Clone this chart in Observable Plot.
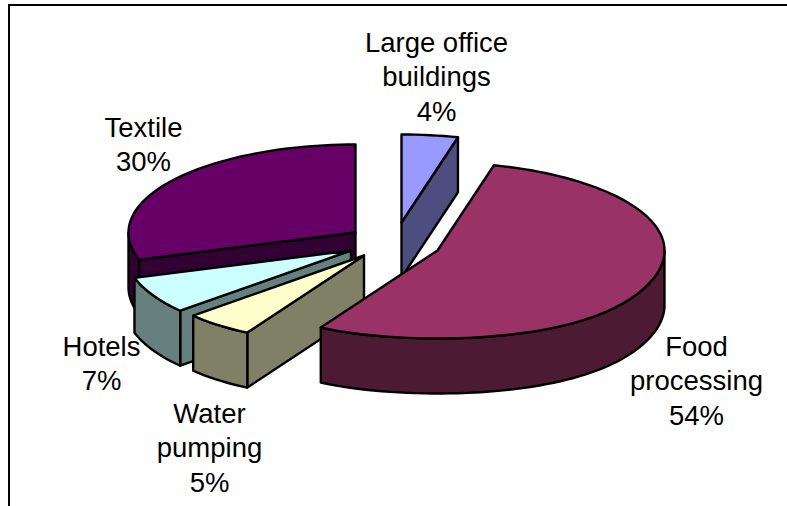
<!DOCTYPE html>
<html>
<head>
<meta charset="utf-8">
<style>html,body{margin:0;padding:0;background:#fff;overflow:hidden}svg{display:block}</style>
<script src="https://cdn.jsdelivr.net/npm/d3@7"></script>
<script src="https://cdn.jsdelivr.net/npm/@observablehq/plot@0.6"></script>
</head>
<body>
<script>
// Data, clockwise from twelve o'clock
const sectors = ["Large office\nbuildings", "Food\nprocessing", "Water\npumping", "Hotels", "Textile"];
const shares = [4, 54, 5, 7, 30];
const topColors = ["#9999ff", "#993366", "#ffffcc", "#ccffff", "#660066"];
const sideColors = ["#4d4d80", "#4d1a33", "#808066", "#668080", "#330033"];

// Drawing layout, kept apart from the data
const centers = [[401, 222], [437, 250], [363.5, 255], [350.5, 250], [355, 232]];
const labelSpots = [[436, 75], [696, 379], [209, 446], [101, 362], [143, 143]];
const paintOrder = [4, 3, 2, 0, 1];
const rx = 227, ry = 88, depth = 55, spread = 0.1;

let running = 0;
const slices = shares.map((v, i) => {
  const start = running * 3.6;
  running += v;
  return {i, start, end: running * 3.6, cx: centers[i][0], cy: centers[i][1]};
});

const rim = (s, deg, drop = 0) => {
  const a = deg * Math.PI / 180;
  const c = Math.cos(a);
  const wide = rx * (1 + spread * Math.pow(Math.max(0, -c), 3));
  return {x: s.cx + wide * Math.sin(a), y: s.cy - ry * c + drop};
};
const arc = (s, a0, a1, drop = 0) => {
  const n = Math.max(1, Math.ceil((a1 - a0) / 2));
  return d3.range(n + 1).map(k => rim(s, a0 + (a1 - a0) * k / n, drop));
};
const apex = (s, drop = 0) => ({x: s.cx, y: s.cy + drop});

const faces = [];
for (const idx of paintOrder) {
  const s = slices[idx];
  const side = sideColors[idx];
  const radial = deg => {
    const p = rim(s, deg), q = rim(s, deg, depth);
    faces.push({pts: [apex(s), p, q, apex(s, depth)], fill: side});
  };
  if (s.start >= 180 && s.start < 360) radial(s.start);
  if (s.end > 0 && s.end < 180) radial(s.end);
  const a0 = Math.max(s.start, 90), a1 = Math.min(s.end, 270);
  if (a1 > a0) faces.push({pts: [...arc(s, a0, a1), ...arc(s, a0, a1, depth).reverse()], fill: side});
  faces.push({pts: [apex(s), ...arc(s, s.start, s.end)], fill: topColors[idx]});
}

const labels = sectors.map((name, i) => ({
  text: `${name}\n${shares[i]}%`, x: labelSpots[i][0], y: labelSpots[i][1]
}));

const chart = Plot.plot({
  width: 787, height: 506,
  margin: 0,
  style: {background: "#fff"},
  x: {domain: [0, 787], range: [0, 787], axis: null},
  y: {domain: [0, 506], range: [0, 506], axis: null},
  marks: [
    Plot.ruleX([8.5], {y1: 4, y2: 506, stroke: "#000", strokeWidth: 2}),
    Plot.ruleY([4.5], {x1: 8, x2: 787, stroke: "#000", strokeWidth: 2}),
    ...faces.map(f => Plot.line(f.pts, {
      x: "x", y: "y", fill: f.fill, stroke: "#000", strokeWidth: 2.4,
      curve: "linear-closed", strokeLinejoin: "round"
    })),
    Plot.text(labels, {
      x: "x", y: "y", text: "text", fill: "#000",
      fontFamily: "'Liberation Sans', Arial, sans-serif", fontSize: 27.5,
      lineHeight: 1.24, textAnchor: "middle"
    })
  ]
});
document.body.appendChild(chart);
</script>
</body>
</html>
